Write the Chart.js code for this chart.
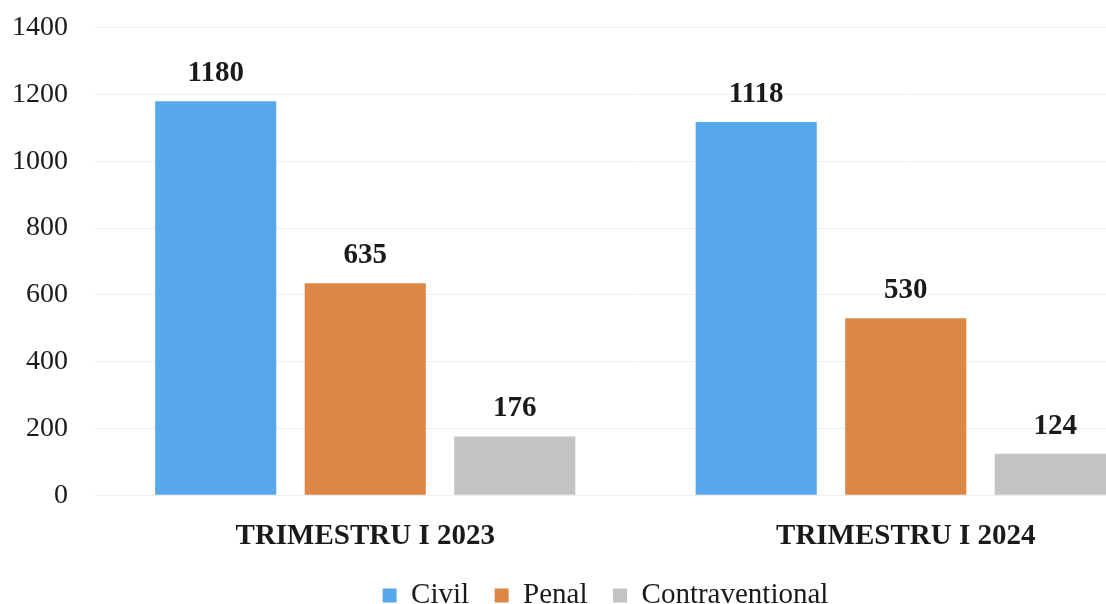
<!DOCTYPE html>
<html>
<head>
<meta charset="utf-8">
<script src="https://cdn.jsdelivr.net/npm/chart.js@4/dist/chart.umd.min.js"></script>
<style>
  html, body { margin: 0; padding: 0; background: #ffffff; }
  #wrap { width: 1106px; height: 604px; overflow: hidden; position: relative; }
  #box { width: 1264px; height: 636px; position: absolute; left: -27px; top: -16px; }
</style>
</head>
<body>
<div id="wrap"><div id="box"><canvas id="trimChart"></canvas></div></div>
<script>
/* chart data */
const categories = ["TRIMESTRU I 2023", "TRIMESTRU I 2024"];
const civilValues = [1180, 1118];
const penalValues = [635, 530];
const contraValues = [176, 124];
const yTicks = [0, 200, 400, 600, 800, 1000, 1200, 1400];

const serif = "'Liberation Serif', 'Times New Roman', serif";

// value labels above each bar
const barValueLabels = {
  id: "barValueLabels",
  afterDatasetsDraw(chart) {
    const ctx = chart.ctx;
    ctx.save();
    ctx.font = "bold 29px " + serif;
    ctx.fillStyle = "#1a1a1a";
    ctx.textAlign = "center";
    ctx.textBaseline = "alphabetic";
    chart.data.datasets.forEach((ds, i) => {
      chart.getDatasetMeta(i).data.forEach((bar, j) => {
        ctx.fillText(String(ds.data[j]), bar.x, bar.y - 20);
      });
    });
    ctx.restore();
  },
};

// legend sits a bit right of the plot centre in the original
const legendShift = {
  id: "legendShift",
  afterLayout(chart) {
    if (chart.legend) {
      chart.legend.left += 25;
      chart.legend.right += 25;
    }
  },
};

const barConfig = {
  type: "bar",
  data: {
    labels: categories,
    datasets: [
      { label: "Civil", data: civilValues, backgroundColor: "#57a8ea" },
      { label: "Penal", data: penalValues, backgroundColor: "#dc8746" },
      { label: "Contraven\u021Bional", data: contraValues, backgroundColor: "#c2c3c5" },
    ],
  },
  options: {
    responsive: true,
    maintainAspectRatio: false,
    animation: false,
    layout: { padding: { top: 11, left: 12, right: 61, bottom: 0 } },
    datasets: { bar: { barPercentage: 0.81, categoryPercentage: 0.83 } },
    scales: {
      x: {
        grid: { display: false },
        border: { display: false },
        ticks: {
          padding: 16,
          color: "#1a1a1a",
          font: { family: serif, size: 29, weight: "bold" },
        },
      },
      y: {
        min: 0,
        max: 1400,
        afterBuildTicks: (axis) => { axis.ticks = yTicks.map((v) => ({ value: v })); },
        grid: { color: "#eeeeee", drawTicks: false },
        border: { display: false },
        ticks: {
          padding: 27,
          color: "#1a1a1a",
          font: { family: serif, size: 28 },
          callback: (v) => String(v),
        },
      },
    },
    plugins: {
      legend: {
        position: "bottom",
        labels: {
          boxWidth: 14,
          boxHeight: 14,
          padding: 11,
          color: "#1a1a1a",
          font: { family: serif, size: 29 },
          generateLabels: (chart) => {
            const items = Chart.defaults.plugins.legend.labels.generateLabels(chart);
            items.forEach((it, i) => {
              if (i < items.length - 1) it.text = it.text + "\u2002";
            });
            return items;
          },
        },
      },
      tooltip: { enabled: false },
    },
  },
  plugins: [barValueLabels, legendShift],
};

new Chart(document.getElementById("trimChart"), barConfig);
</script>
</body>
</html>
